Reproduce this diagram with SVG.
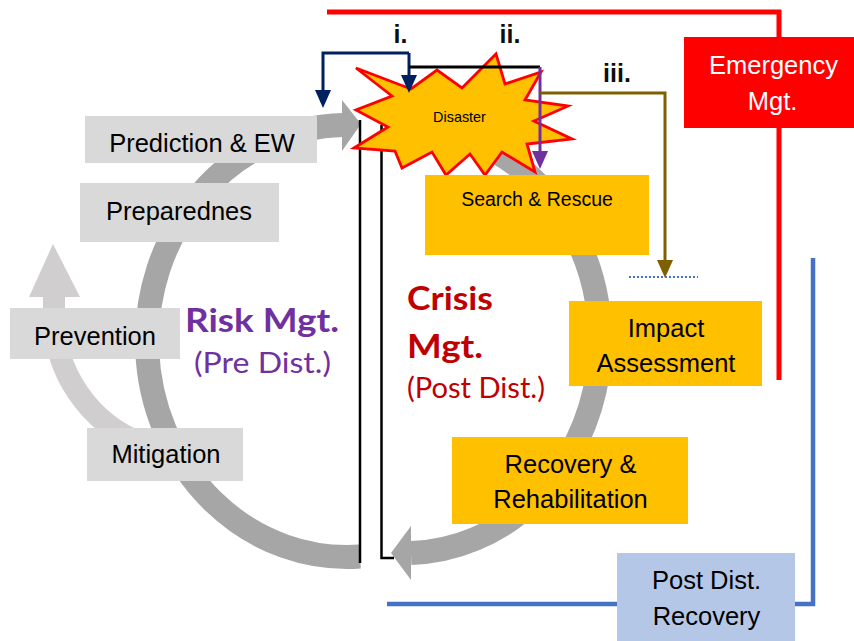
<svg xmlns="http://www.w3.org/2000/svg" width="854" height="641" viewBox="0 0 854 641">
  <style>
    .lbl { font-family: "Liberation Sans", Arial, sans-serif; font-size: 25.5px; fill: #000; text-anchor: middle; }
    .grey { fill: #D9D9D9; }
    .amber { fill: #FFC000; }
    .arc-dark { fill: none; stroke: #A6A6A6; stroke-width: 24; }
    .arc-light { fill: none; stroke: #D0CECE; stroke-width: 22; }
    .num { font-family: "Liberation Sans", Arial, sans-serif; font-size: 25px; font-weight: bold; fill: #0D0D0D; text-anchor: middle; }
    .cal { font-family: Lato, "Open Sans", sans-serif; }
    .link { fill: none; stroke-width: 3; }
  </style>
  <defs>
    <marker id="head-navy" viewBox="0 0 18 16" refX="1" refY="8" markerWidth="18" markerHeight="16" markerUnits="userSpaceOnUse" orient="auto">
      <path d="M0,0 L18,8 L0,16 z" fill="#002060"/>
    </marker>
    <marker id="head-purple" viewBox="0 0 18 16" refX="1" refY="8" markerWidth="18" markerHeight="16" markerUnits="userSpaceOnUse" orient="auto">
      <path d="M0,0 L18,8 L0,16 z" fill="#7030A0"/>
    </marker>
    <marker id="head-brown" viewBox="0 0 18 16" refX="1" refY="8" markerWidth="18" markerHeight="16" markerUnits="userSpaceOnUse" orient="auto">
      <path d="M0,0 L18,8 L0,16 z" fill="#7F6000"/>
    </marker>
  </defs>

  <rect width="854" height="641" fill="#fff"/>

  <!-- cycle arrows -->
  <g id="cycle">
    <path class="arc-light" d="M142,443.6 A138,138 0 0 1 54,315 L54,296"/>
    <polygon points="29,297 53,244 80,297" fill="#D0CECE"/>
    <path class="arc-dark" d="M360,556.5 A200,216 0 1 1 343,125"/>
    <polygon points="342,100 361,124 342,151" fill="#A6A6A6"/>
    <path class="arc-dark" d="M470,139.2 A195,213 0 0 1 411,553"/>
    <polygon points="411,526 391,553 411,580" fill="#A6A6A6"/>
  </g>

  <!-- outer frame lines -->
  <g id="connectors">
    <path d="M327,12 H779 V380" fill="none" stroke="#FF0000" stroke-width="5"/>
    <path d="M387,604 H813 V258" fill="none" stroke="#4472C4" stroke-width="4.5"/>
    <line x1="360" y1="120" x2="360" y2="563" stroke="#000" stroke-width="2.5"/>
    <path d="M381.5,125 V558 H394" fill="none" stroke="#000" stroke-width="2.5"/>
  </g>

  <g id="disaster">
    <polygon points="356,68 411,89 437,70 462,88 496,54 505,84 541,72 525,100 568,106 534,121 572,139 527,144 535,172 502,152 485,175 470,154 446,175 432,152 402,168 395,151 354,148 388,127 356,110 392,96" fill="#FFC000" stroke="#FF0000" stroke-width="2.8" stroke-linejoin="miter"/>
    <text x="459.5" y="122" style="font-family:'Liberation Sans',Arial,sans-serif;font-size:14.4px;text-anchor:middle">Disaster</text>
  </g>

  <g id="links">
    <path class="link" stroke="#002060" d="M409,53 H323 V91" marker-end="url(#head-navy)"/>
    <path class="link" stroke="#002060" d="M409,53 V76" marker-end="url(#head-navy)"/>
    <path class="link" stroke="#000" d="M409,67 H540"/>
    <path class="link" stroke="#7030A0" d="M540,67 V152" marker-end="url(#head-purple)"/>
    <path class="link" stroke="#7F6000" d="M540,93 H665 V261" marker-end="url(#head-brown)"/>
    <line x1="629" y1="277" x2="698" y2="277" stroke="#4472C4" stroke-width="2" stroke-dasharray="2,2"/>
    <text class="num" x="400.5" y="43">i.</text>
    <text class="num" x="510" y="43">ii.</text>
    <text class="num" x="617" y="82">iii.</text>
  </g>

  <g id="prediction">
    <rect class="grey" x="85" y="116" width="232" height="47"/>
    <text class="lbl" x="202" y="152">Prediction &amp; EW</text>
  </g>
  <g id="preparedness">
    <rect class="grey" x="80" y="183" width="199" height="59"/>
    <text class="lbl" x="179" y="220">Preparednes</text>
  </g>
  <g id="prevention">
    <rect class="grey" x="10" y="308" width="170" height="51"/>
    <text class="lbl" x="95" y="345">Prevention</text>
  </g>
  <g id="mitigation">
    <rect class="grey" x="87" y="428" width="156" height="53"/>
    <text class="lbl" x="166" y="463">Mitigation</text>
  </g>

  <g id="risk-mgt">
    <text class="cal" x="185" y="332" font-size="33" font-weight="bold" fill="#7030A0" textLength="154" lengthAdjust="spacingAndGlyphs">Risk Mgt.</text>
    <text class="cal" x="194" y="373" font-size="28" fill="#7030A0" textLength="137" lengthAdjust="spacingAndGlyphs">(Pre Dist.)</text>
  </g>
  <g id="crisis-mgt">
    <text class="cal" x="407" y="310" font-size="33" font-weight="bold" fill="#C00000" textLength="86" lengthAdjust="spacingAndGlyphs">Crisis</text>
    <text class="cal" x="407" y="358" font-size="33" font-weight="bold" fill="#C00000" textLength="76" lengthAdjust="spacingAndGlyphs">Mgt.</text>
    <text class="cal" x="407" y="398" font-size="28" fill="#C00000" textLength="138" lengthAdjust="spacingAndGlyphs">(Post Dist.)</text>
  </g>

  <g id="search-rescue">
    <rect class="amber" x="425" y="175" width="224" height="80"/>
    <text class="lbl" x="537" y="206" style="font-size:19.5px">Search &amp; Rescue</text>
  </g>
  <g id="impact-assessment">
    <rect class="amber" x="569" y="301" width="193" height="85"/>
    <text class="lbl" x="666" y="337">Impact</text>
    <text class="lbl" x="666" y="372">Assessment</text>
  </g>
  <g id="recovery-rehab">
    <rect class="amber" x="452" y="437" width="236" height="87"/>
    <text class="lbl" x="570.5" y="473">Recovery &amp;</text>
    <text class="lbl" x="570.5" y="508">Rehabilitation</text>
  </g>
  <g id="post-dist-recovery">
    <rect x="617" y="553" width="178" height="88" fill="#B4C7E7"/>
    <text class="lbl" x="706.5" y="589">Post Dist.</text>
    <text class="lbl" x="706.5" y="625">Recovery</text>
  </g>
  <g id="emergency-mgt">
    <rect x="684" y="37" width="170" height="91" fill="#FF0000"/>
    <text class="lbl" x="773.5" y="74" style="fill:#fff">Emergency</text>
    <text class="lbl" x="772.5" y="110" style="fill:#fff">Mgt.</text>
  </g>
</svg>
